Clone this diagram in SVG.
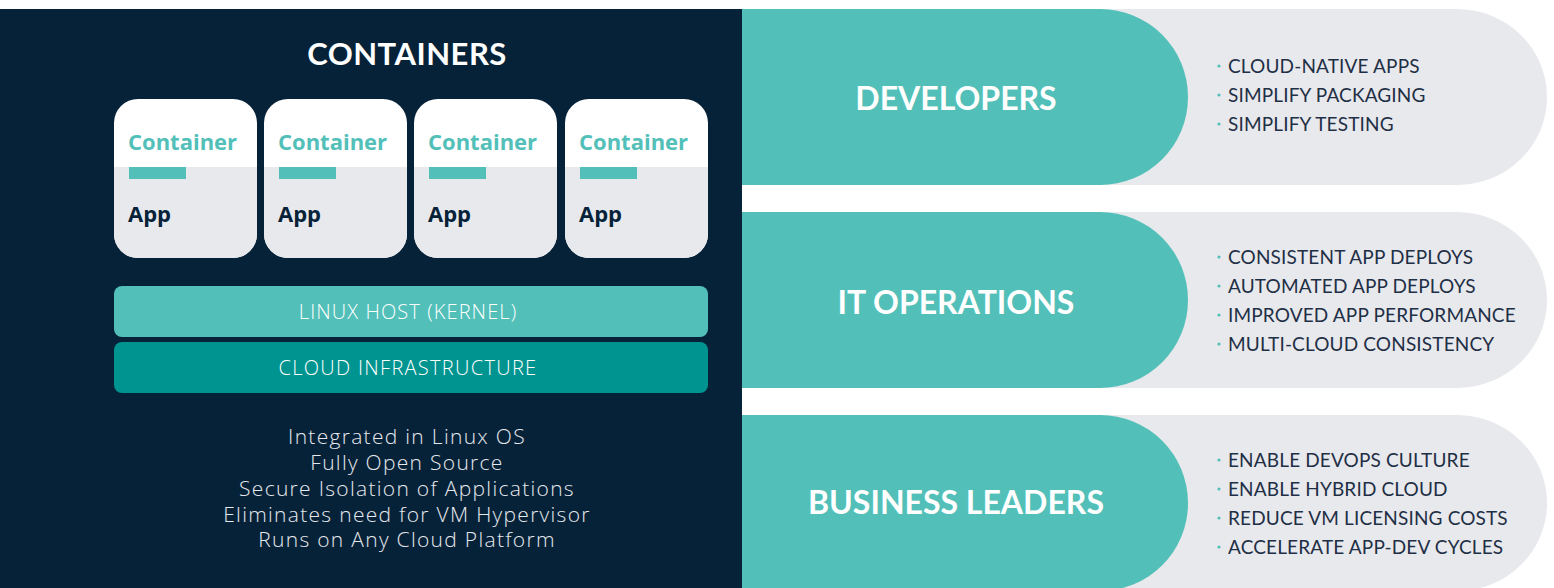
<svg xmlns="http://www.w3.org/2000/svg" width="1554" height="588" viewBox="0 0 1554 588">
<style>
.navy{fill:#062238}
.teal{fill:#52c0b9}
.gray{fill:#e8e9ed}
.h1{font-family:Lato,"Open Sans",sans-serif;font-weight:700;fill:#ffffff;text-anchor:middle;font-size:32px}
.ctr{font-family:"Open Sans",Lato,sans-serif;font-weight:700;font-size:22px;fill:#52c0b9}
.app{font-family:"Open Sans",Lato,sans-serif;font-weight:700;font-size:22px;fill:#062238}
.bar{font-family:"Open Sans",Lato,sans-serif;font-weight:300;font-size:20px;letter-spacing:1.1px;fill:#ffffff;text-anchor:middle}
.feat{font-family:"Open Sans",Lato,sans-serif;font-weight:300;font-size:21px;letter-spacing:1.3px;fill:#e6e9ee;text-anchor:middle}
.bul{font-family:Lato,"Open Sans",sans-serif;font-weight:400;font-size:19px;letter-spacing:0.15px;fill:#1f2f45}
.dot{fill:#52c0b9}
</style>
<defs>
<clipPath id="cardClip"><rect x="0" y="0" width="143" height="159" rx="24"/></clipPath>
<g id="card">
<g clip-path="url(#cardClip)">
<rect x="0" y="0" width="143" height="159" fill="#ffffff"/>
<rect x="0" y="68" width="143" height="91" class="gray"/>
</g>
<rect x="15" y="68" width="57" height="12" class="teal"/>
</g>
</defs>
<rect width="1554" height="588" fill="#ffffff"/>
<g id="containers-panel">
<rect x="0" y="9" width="742" height="579" class="navy"/>
<text x="407" y="65" class="h1" style="font-size:31px;letter-spacing:0.5px">CONTAINERS</text>
</g>
<g id="card-1">
<use href="#card" x="114" y="99"/>
<text x="128" y="150" class="ctr">Container</text>
<text x="128" y="222" class="app">App</text>
</g>
<g id="card-2">
<use href="#card" x="264" y="99"/>
<text x="278" y="150" class="ctr">Container</text>
<text x="278" y="222" class="app">App</text>
</g>
<g id="card-3">
<use href="#card" x="414" y="99"/>
<text x="428" y="150" class="ctr">Container</text>
<text x="428" y="222" class="app">App</text>
</g>
<g id="card-4">
<use href="#card" x="565" y="99"/>
<text x="579" y="150" class="ctr">Container</text>
<text x="579" y="222" class="app">App</text>
</g>
<g id="linux-host">
<rect x="114" y="286" width="594" height="51" rx="8" class="teal"/>
<text x="408" y="319" class="bar">LINUX HOST (KERNEL)</text>
</g>
<g id="cloud-infra">
<rect x="114" y="342" width="594" height="51" rx="8" fill="#009490"/>
<text x="408" y="375" class="bar" style="letter-spacing:1.3px">CLOUD INFRASTRUCTURE</text>
</g>
<g id="features">
<text x="407" y="444" class="feat">Integrated in Linux OS</text>
<text x="407" y="470" class="feat">Fully Open Source</text>
<text x="407" y="496" class="feat">Secure Isolation of Applications</text>
<text x="407" y="522" class="feat">Eliminates need for VM Hypervisor</text>
<text x="407" y="547" class="feat">Runs on Any Cloud Platform</text>
</g>
<g id="developers">
<path d="M742 9 H1457 A90 88 0 0 1 1457 185 H742 Z" class="gray"/>
<path d="M742 9 H1100 A88 88 0 0 1 1100 185 H742 Z" class="teal"/>
<text x="956" y="110" class="h1">DEVELOPERS</text>
<circle cx="1219" cy="66" r="1.6" class="dot"/>
<text x="1228" y="73" class="bul">CLOUD-NATIVE APPS</text>
<circle cx="1219" cy="95" r="1.6" class="dot"/>
<text x="1228" y="102" class="bul">SIMPLIFY PACKAGING</text>
<circle cx="1219" cy="124" r="1.6" class="dot"/>
<text x="1228" y="131" class="bul">SIMPLIFY TESTING</text>
</g>
<g id="it-operations">
<path d="M742 212 H1457 A90 88 0 0 1 1457 388 H742 Z" class="gray"/>
<path d="M742 212 H1100 A88 88 0 0 1 1100 388 H742 Z" class="teal"/>
<text x="956" y="314" class="h1">IT OPERATIONS</text>
<circle cx="1219" cy="257" r="1.6" class="dot"/>
<text x="1228" y="264" class="bul">CONSISTENT APP DEPLOYS</text>
<circle cx="1219" cy="286" r="1.6" class="dot"/>
<text x="1228" y="293" class="bul">AUTOMATED APP DEPLOYS</text>
<circle cx="1219" cy="315" r="1.6" class="dot"/>
<text x="1228" y="322" class="bul">IMPROVED APP PERFORMANCE</text>
<circle cx="1219" cy="344" r="1.6" class="dot"/>
<text x="1228" y="351" class="bul">MULTI-CLOUD CONSISTENCY</text>
</g>
<g id="business-leaders">
<path d="M742 415 H1457 A90 88 0 0 1 1457 591 H742 Z" class="gray"/>
<path d="M742 415 H1100 A88 88 0 0 1 1100 591 H742 Z" class="teal"/>
<text x="956" y="514" class="h1">BUSINESS LEADERS</text>
<circle cx="1219" cy="460" r="1.6" class="dot"/>
<text x="1228" y="467" class="bul">ENABLE DEVOPS CULTURE</text>
<circle cx="1219" cy="489" r="1.6" class="dot"/>
<text x="1228" y="496" class="bul">ENABLE HYBRID CLOUD</text>
<circle cx="1219" cy="518" r="1.6" class="dot"/>
<text x="1228" y="525" class="bul">REDUCE VM LICENSING COSTS</text>
<circle cx="1219" cy="547" r="1.6" class="dot"/>
<text x="1228" y="554" class="bul">ACCELERATE APP-DEV CYCLES</text>
</g>
</svg>
